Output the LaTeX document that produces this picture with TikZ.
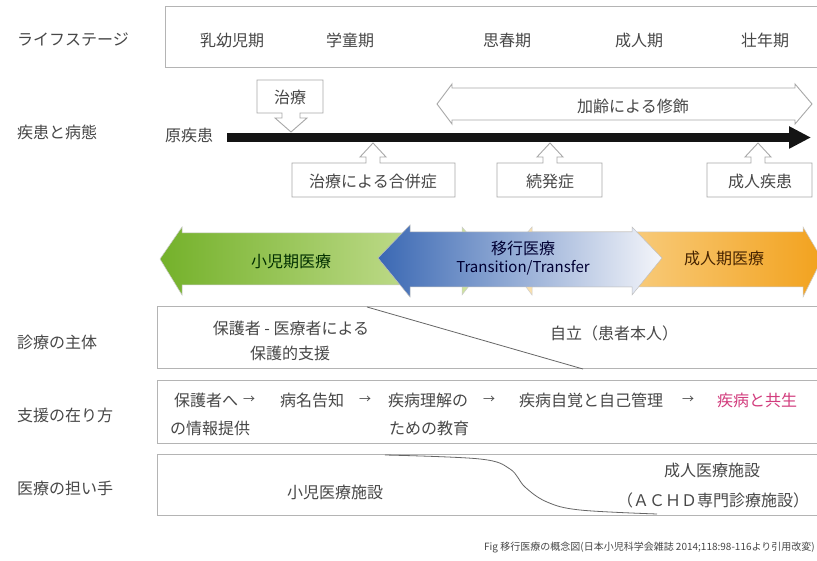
\documentclass[tikz,border=0pt]{standalone}
\usepackage{fontspec}
\setmainfont{Noto Sans CJK JP}
\usetikzlibrary{arrows.meta}
\definecolor{txt}{HTML}{474747}
\definecolor{frame}{HTML}{B4B4B4}
\definecolor{hollow}{HTML}{A8A8A8}
\definecolor{pinktxt}{HTML}{D23C7D}
\definecolor{gA}{HTML}{74B12A}
\definecolor{gB}{HTML}{D6E8A8}
\definecolor{bA}{HTML}{3A68B3}
\definecolor{bB}{HTML}{F4F5FA}
\definecolor{oA}{HTML}{FCE6B8}
\definecolor{oB}{HTML}{F2A21E}
\begin{document}
\begin{tikzpicture}[x=1pt,y=-1pt,
  lbl/.style={anchor=west, text=txt, font=\fontsize{16}{18}\selectfont, inner sep=0pt},
  ctext/.style={text=txt, font=\fontsize{16}{18}\selectfont, inner sep=0pt},
  arr/.style={text=txt, font=\fontsize{12}{14}\selectfont, inner sep=0pt},
  rowbox/.style={draw=frame, line width=1pt, fill=white},
  callout/.style={draw=hollow, line width=0.9pt, fill=white},
  divider/.style={draw=black!60, line width=0.8pt},
]
\clip (0,0) rectangle (817,561);
\fill[white] (0,0) rectangle (817,561);

% left labels
\node[lbl] (ls) at (17,40) {ライフステージ};
\node[lbl] (dz) at (17,132) {疾患と病態};
\node[lbl] (sh) at (17,342) {診療の主体};
\node[lbl] (sa) at (17,415) {支援の在り方};
\node[lbl] (ir) at (17,488) {医療の担い手};

% life stage box
\draw[rowbox] (165,7) rectangle (830,68);
\node[ctext] (s1) at (232,40) {乳幼児期};
\node[ctext] (s2) at (350,40) {学童期};
\node[ctext] (s3) at (507,40) {思春期};
\node[ctext] (s4) at (639,40) {成人期};
\node[ctext] (s5) at (765,40) {壮年期};

% disease timeline
\node[ctext] (orig) at (189,135) {原疾患};
\coordinate (bs) at (227,137.5);
\coordinate (be) at (811,137.5);
\draw[line width=9pt, black!92, -{Triangle[length=22pt,width=21pt]}] (bs) -- (be);

% treatment callout (down)
\draw[callout] (257,80) -- (323,80) -- (323,113) -- (300,113) -- (300,118) -- (307,118)
  -- (291,132) -- (275,118) -- (282,118) -- (282,113) -- (257,113) -- cycle;
\node[ctext] (tr) at (290,97) {治療};

% aging double arrow
\draw[callout] (437,104) -- (452,84) -- (452,88) -- (795,88) -- (795,84) -- (812,104)
  -- (795,124) -- (795,120) -- (452,120) -- (452,124) -- cycle;
\node[ctext] (ag) at (633,106) {加齢による修飾};

% up callouts
\draw[callout] (292,163) -- (366,163) -- (366,157) -- (360,157) -- (373,143) -- (386,157)
  -- (380,157) -- (380,163) -- (455,163) -- (455,197) -- (292,197) -- cycle;
\node[ctext] (c1) at (373,181) {治療による合併症};
\draw[callout] (497,163) -- (543,163) -- (543,157) -- (537,157) -- (550,143) -- (563,157)
  -- (557,157) -- (557,163) -- (602,163) -- (602,197) -- (497,197) -- cycle;
\node[ctext] (c2) at (550,181) {続発症};
\draw[callout] (707,163) -- (751,163) -- (751,157) -- (745,157) -- (758,143) -- (771,157)
  -- (765,157) -- (765,163) -- (812,163) -- (812,197) -- (707,197) -- cycle;
\node[ctext] (c3) at (760,181) {成人疾患};

% medical care arrows
\shade[left color=gA, right color=gB, draw=black!20, line width=0.5pt]
  (160,259) -- (182,227) -- (182,233) -- (462,233) -- (462,227) -- (490,259)
  -- (462,295) -- (462,285) -- (182,285) -- (182,295) -- cycle;
\shade[left color=oA, right color=oB, draw=black!20, line width=0.5pt]
  (505,259) -- (532,227) -- (532,232) -- (803,232) -- (803,227) -- (822,259)
  -- (803,297) -- (803,287) -- (532,287) -- (532,295) -- cycle;
\shade[left color=bA, right color=bB, draw=black!25, line width=0.5pt]
  (378,258) -- (410,225) -- (410,232) -- (632,232) -- (632,227) -- (662,258)
  -- (632,295) -- (632,287) -- (410,287) -- (410,297) -- cycle;
\node[ctext, text=black!70!green!60!black] (m1) at (291,261) {小児期医療};
\node[ctext, text=black!80!blue] (m2) at (523,248) {移行医療};
\node[ctext, text=black!80!blue, font=\fontsize{15}{17}\selectfont] (m3) at (523,268) {Transition/Transfer};
\node[ctext, text=black!60!orange!70!black] (m4) at (724,258) {成人期医療};

% row 1
\draw[rowbox] (157,307) rectangle (830,369);
\draw[divider] (367,307) -- (583,369);
\node[ctext] (r1a) at (291,328) {保護者 - 医療者による};
\node[ctext] (r1b) at (290,353) {保護的支援};
\node[ctext] (r1c) at (614,333) {自立（患者本人）};

% row 2
\draw[rowbox] (157,381) rectangle (830,443);
\node[ctext] (p1) at (206,400) {保護者へ};
\node[arr] (a1) at (249,400) {→};
\node[ctext] (p2) at (312,400) {病名告知};
\node[arr] (a2) at (365,400) {→};
\node[ctext] (p3) at (428,400) {疾病理解の};
\node[arr] (a3) at (489,400) {→};
\node[ctext] (p4) at (591,400) {疾病自覚と自己管理};
\node[arr] (a4) at (688,400) {→};
\node[ctext, text=pinktxt] (p5) at (757,400) {疾病と共生};
\node[ctext] (p1b) at (210,428) {の情報提供};
\node[ctext] (p3b) at (429,428) {ための教育};

% row 3
\draw[rowbox] (157,454) rectangle (830,515);
\draw[divider] plot[smooth, tension=0.6] coordinates {(385,455) (480,459) (510,469) (525,487) (547,502) (580,510) (657,514)};
\node[ctext] (q1) at (335,492) {小児医療施設};
\node[ctext] (q2) at (712,470) {成人医療施設};
\node[ctext] (q3) at (713,500) {（ＡＣＨＤ専門診療施設）};

% caption
\node[anchor=east, text=txt, font=\fontsize{10}{11}\selectfont, inner sep=0pt] (cap) at (815,548)
  {Fig 移行医療の概念図(日本小児科学会雑誌 2014;118:98-116より引用改変)};
\end{tikzpicture}
\end{document}
